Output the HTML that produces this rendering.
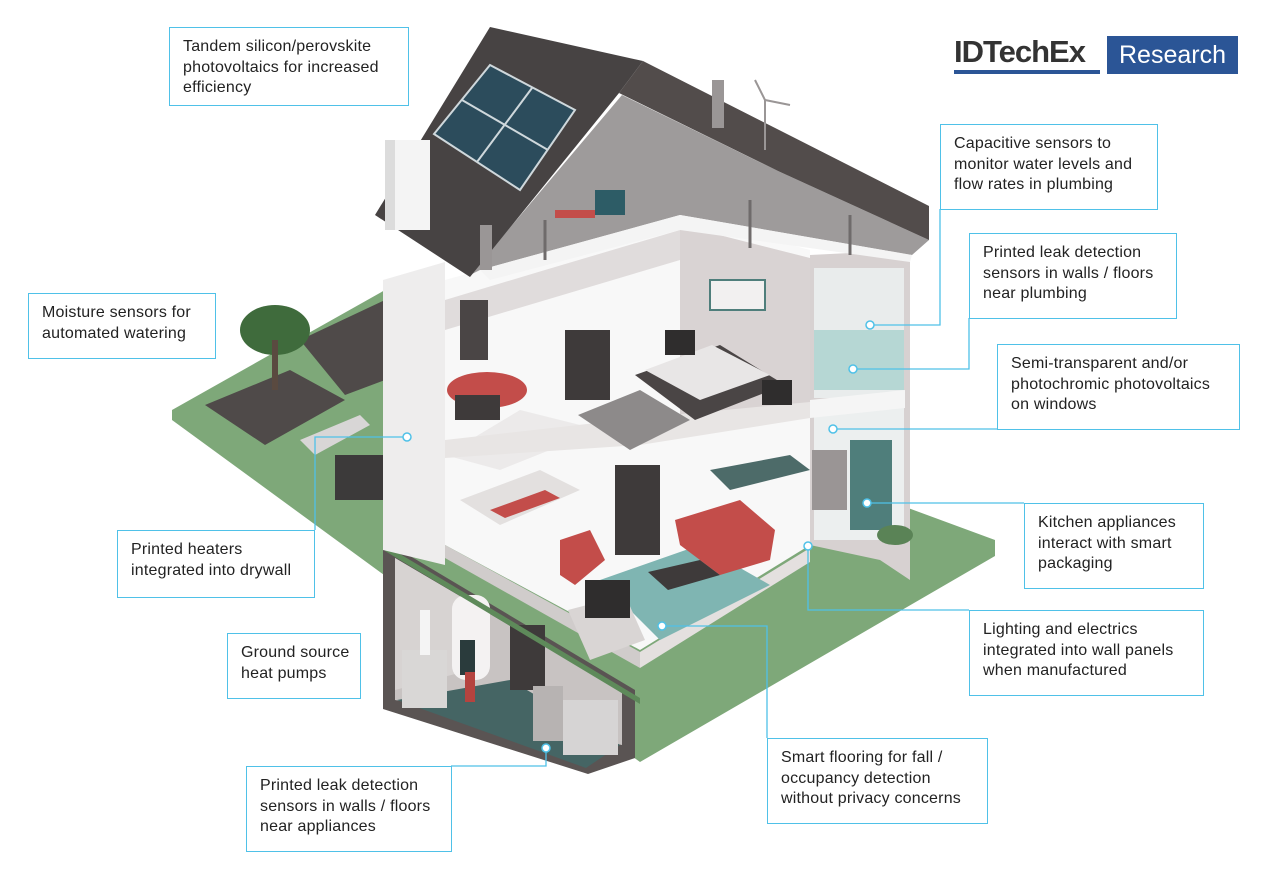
<!DOCTYPE html>
<html><head><meta charset="utf-8"><style>
html,body{margin:0;padding:0;background:#fff;width:1268px;height:872px;overflow:hidden;font-family:"Liberation Sans",sans-serif}
.b{position:absolute;border:1.5px solid #4fc1e8;background:#fff;color:#222;font-size:16px;line-height:20.5px;padding:9px 9px 8px 13px;box-sizing:border-box;letter-spacing:0.2px}
svg{position:absolute;left:0;top:0}
</style></head><body>
<svg width="1268" height="872" viewBox="0 0 1268 872">
<!-- ground -->
<polygon points="172,410 385,290 900,505 995,540 995,556 640,762 172,420" fill="#7ea879"/>
<!-- garden beds -->
<polygon points="205,405 290,370 345,400 265,445" fill="#4f4a49"/>
<polygon points="300,340 385,300 385,380 345,395" fill="#4f4a49"/>
<ellipse cx="275" cy="330" rx="35" ry="25" fill="#3f6b3c"/>
<rect x="272" y="340" width="6" height="50" fill="#5a4a40"/>
<polygon points="300,440 360,415 370,425 315,455" fill="#d8d6d6"/>
<rect x="335" y="455" width="48" height="45" fill="#3c3a3a"/>
<!-- basement -->
<polygon points="383,547 395,547 635,690 635,758 588,774 383,709" fill="#5a5453"/>
<polygon points="395,558 622,692 622,745 395,700" fill="#c8c3c2"/>
<polygon points="395,558 470,602 470,670 395,690" fill="#d7d3d2"/>
<polygon points="397,700 510,680 620,745 586,768" fill="#456564"/>
<rect x="510" y="625" width="35" height="65" fill="#3e3a3a"/>
<rect x="402" y="650" width="45" height="58" fill="#d9d7d6"/>
<rect x="420" y="610" width="10" height="45" fill="#f4f4f4"/>
<rect x="452" y="595" width="38" height="85" rx="14" fill="#f4f2f2"/>
<rect x="460" y="640" width="15" height="35" fill="#2a3b3c"/>
<rect x="465" y="672" width="10" height="30" fill="#b5433f"/>
<rect x="533" y="686" width="30" height="55" fill="#b7b3b2"/>
<rect x="563" y="700" width="55" height="55" fill="#d6d4d4"/>
<!-- interior backdrop -->
<polygon points="445,280 680,215 810,250 810,545 640,650 445,545" fill="#f8f8f8"/>
<!-- upper back wall (lilac) -->
<polygon points="680,225 810,258 810,405 680,420" fill="#d9d3d3"/>
<polygon points="445,300 545,270 680,230 680,260 445,330" fill="#e0dcdc"/>
<!-- ground floor slab edges -->
<polygon points="445,545 640,652 640,668 445,558" fill="#d0cccb"/>
<polygon points="640,652 810,548 810,562 640,668" fill="#e4e0df"/>
<polygon points="385,545 640,698 640,704 385,551" fill="#5e8a5a"/>
<polygon points="600,580 700,545 770,585 660,640" fill="#7fb5b2"/>
<polygon points="648,572 700,560 720,575 668,590" fill="#3e3a3a"/>
<polygon points="568,610 625,595 645,640 590,660" fill="#d9d5d4"/>
<rect x="585" y="580" width="45" height="38" fill="#2f2d2d"/>
<polygon points="675,520 740,500 775,530 770,560 720,575 680,545" fill="#c34d4a"/>
<polygon points="460,500 540,470 580,490 500,525" fill="#e3e0df"/>
<polygon points="490,510 545,490 560,498 505,518" fill="#c34d4a"/>
<rect x="615" y="465" width="45" height="90" fill="#3e3a3a"/>
<polygon points="560,540 590,530 605,560 575,585 560,575" fill="#c34d4a"/>
<polygon points="710,470 790,455 810,470 730,490" fill="#4d6b69"/>
<polygon points="445,455 500,470 600,430 520,410" fill="#eceaea"/>
<!-- first floor slab -->
<polygon points="445,440 640,418 810,402 810,418 640,445 445,458" fill="#e8e5e4"/>
<!-- first floor items -->
<polygon points="578,415 640,390 690,420 630,450" fill="#8d8a8a"/>
<polygon points="635,375 720,345 785,385 695,420" fill="#4a4545"/>
<polygon points="645,370 712,345 770,375 700,400" fill="#e8e6e6"/>
<ellipse cx="487" cy="390" rx="40" ry="18" fill="#c34d4a"/>
<rect x="455" y="395" width="45" height="25" fill="#3e3a3a"/>
<rect x="565" y="330" width="45" height="70" fill="#3e3a3a"/>
<rect x="460" y="300" width="28" height="60" fill="#4a4545"/>
<rect x="665" y="330" width="30" height="25" fill="#2f2d2d"/>
<rect x="762" y="380" width="30" height="25" fill="#2f2d2d"/>
<rect x="710" y="280" width="55" height="30" fill="#f2f0f0" stroke="#4f7e7b" stroke-width="2"/>
<!-- right wall / rooms -->
<polygon points="810,255 910,250 910,580 880,560 810,545" fill="#d7d1d1"/>
<rect x="814" y="268" width="90" height="130" fill="#e9ecec"/>
<rect x="814" y="330" width="90" height="60" fill="#9fcfca" opacity="0.7"/>
<rect x="814" y="405" width="90" height="135" fill="#ecefef"/>
<polygon points="810,400 905,390 905,408 810,418" fill="#f5f5f5"/>
<rect x="812" y="450" width="35" height="60" fill="#9a9595"/>
<rect x="850" y="440" width="42" height="90" fill="#4f7e7b"/>
<ellipse cx="895" cy="535" rx="18" ry="10" fill="#5a8356"/>
<!-- attic glazing -->
<polygon points="470,275 622,95 778,171 929,240 912,255 680,215 480,270" fill="#9e9b9b"/>
<polygon points="480,270 680,215 912,255 910,262 680,230 490,280" fill="#f4f4f4"/>
<line x1="545" y1="220" x2="545" y2="260" stroke="#6f6b6b" stroke-width="3"/>
<line x1="750" y1="200" x2="750" y2="248" stroke="#6f6b6b" stroke-width="3"/>
<line x1="850" y1="215" x2="850" y2="255" stroke="#6f6b6b" stroke-width="3"/>
<rect x="595" y="190" width="30" height="25" fill="#2d5c66"/>
<rect x="555" y="210" width="40" height="8" fill="#c34d4a"/>
<!-- roof -->
<polygon points="490,27 643,61 619,93 470,277 375,215" fill="#474343"/>
<polygon points="643,61 929,206 929,240 778,171 619,93" fill="#524c4b"/>
<polygon points="434,134 490,65 575,110 520,190" fill="#2c4c5c" stroke="#cfd8dc" stroke-width="2"/>
<line x1="462" y1="100" x2="548" y2="150" stroke="#cfd8dc" stroke-width="2"/>
<line x1="532" y1="88" x2="477" y2="162" stroke="#cfd8dc" stroke-width="2"/>
<!-- left wall column -->
<polygon points="383,280 445,262 445,565 383,550" fill="#eeeded"/>
<rect x="385" y="140" width="45" height="90" fill="#f4f4f4"/>
<rect x="385" y="140" width="10" height="90" fill="#dcdcdc"/>
<rect x="480" y="225" width="12" height="45" fill="#9a9696"/>
<rect x="712" y="80" width="12" height="48" fill="#9a9696"/>
<line x1="765" y1="100" x2="765" y2="150" stroke="#9a9696" stroke-width="2"/>
<line x1="765" y1="100" x2="790" y2="105" stroke="#9a9696" stroke-width="2"/>
<line x1="765" y1="100" x2="755" y2="80" stroke="#9a9696" stroke-width="2"/>
<!-- connectors -->
<g stroke="#4fc1e8" stroke-width="1.3" fill="none">
<polyline points="407,437 315,437 315,530"/>
<polyline points="546,748 546,766 451,766"/>
<polyline points="870,325 940,325 940,209"/>
<polyline points="853,369 969,369 969,318"/>
<polyline points="833,429 997,429"/>
<polyline points="867,503 1024,503"/>
<polyline points="808,546 808,610 969,610"/>
<polyline points="662,626 767,626 767,738"/>
</g>
<g fill="#fff" stroke="#4fc1e8" stroke-width="1.5">
<circle cx="407" cy="437" r="4"/><circle cx="546" cy="748" r="4"/><circle cx="870" cy="325" r="4"/><circle cx="853" cy="369" r="4"/><circle cx="833" cy="429" r="4"/><circle cx="867" cy="503" r="4"/><circle cx="808" cy="546" r="4"/><circle cx="662" cy="626" r="4"/>
</g>
</svg>
<div style="position:absolute;left:954px;top:34px;font-size:31px;font-weight:bold;color:#333;letter-spacing:-1px;border-bottom:4px solid #2b5596;line-height:36px;width:146px">IDTechEx</div>
<div style="position:absolute;left:1107px;top:36px;width:131px;height:38px;background:#2b5596;color:#fff;font-size:25px;line-height:38px;text-align:center">Research</div>
<div class="b" style="left:169px;top:27px;width:240px;height:79px">Tandem silicon/perovskite photovoltaics for increased efficiency</div>
<div class="b" style="left:28px;top:293px;width:188px;height:66px">Moisture sensors for automated watering</div>
<div class="b" style="left:117px;top:530px;width:198px;height:68px">Printed heaters integrated into drywall</div>
<div class="b" style="left:227px;top:633px;width:134px;height:66px">Ground source heat pumps</div>
<div class="b" style="left:246px;top:766px;width:206px;height:86px">Printed leak detection sensors in walls / floors near appliances</div>
<div class="b" style="left:940px;top:124px;width:218px;height:86px">Capacitive sensors to monitor water levels and flow rates in plumbing</div>
<div class="b" style="left:969px;top:233px;width:208px;height:86px">Printed leak detection sensors in walls / floors near plumbing</div>
<div class="b" style="left:997px;top:344px;width:243px;height:86px">Semi-transparent and/or photochromic photovoltaics on windows</div>
<div class="b" style="left:1024px;top:503px;width:180px;height:86px">Kitchen appliances interact with smart packaging</div>
<div class="b" style="left:969px;top:610px;width:235px;height:86px">Lighting and electrics integrated into wall panels when manufactured</div>
<div class="b" style="left:767px;top:738px;width:221px;height:86px">Smart flooring for fall / occupancy detection without privacy concerns</div>
</body></html>
